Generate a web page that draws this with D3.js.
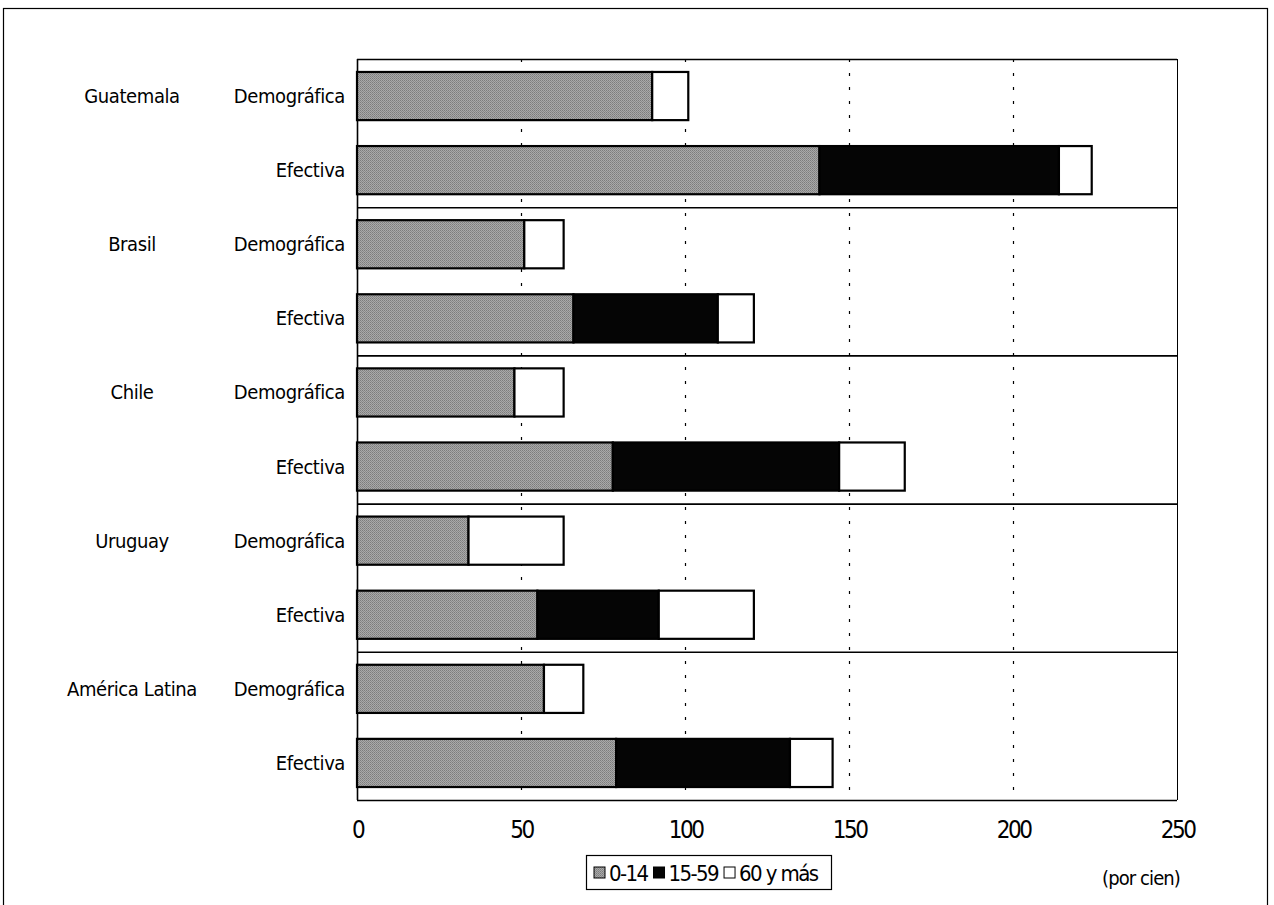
<!DOCTYPE html>
<html>
<head>
<meta charset="utf-8">
<script src="https://cdn.jsdelivr.net/npm/d3@7"></script>
<style>
  html, body { margin: 0; padding: 0; background: #fff; }
  svg { display: block; }
  text { font-family: "DejaVu Sans Condensed", "Liberation Sans Narrow", "DejaVu Sans", sans-serif; fill: #000; }
</style>
</head>
<body>
<script>
// Countries and the two kinds of dependency ratio shown for each
const countries = ["Guatemala", "Brasil", "Chile", "Uruguay", "América Latina"];
const ratioTypes = ["Demográfica", "Efectiva"];

// Age groups (stack order) and their legend labels
const ageGroups = ["0-14", "15-59", "60 y más"];

// Contribution of each age group, per cien, in row order (country x ratio type)
const values014  = [90, 141, 51, 66, 48, 78, 34, 55, 57, 79];
const values1559 = [0,  73,  0,  44, 0,  69, 0,  37, 0,  53];
const values60   = [11, 10,  12, 11, 15, 20, 29, 29, 12, 13];

const xTicks = [0, 50, 100, 150, 200, 250];
const unitLabel = "(por cien)";

const W = 1274, H = 905;
const margin = { left: 357, right: 97, top: 59, bottom: 105 };

const rows = [];
countries.forEach((c, i) => ratioTypes.forEach((t, j) => {
  const k = i * 2 + j;
  rows.push({ key: c + "|" + t, country: c, type: t,
              "0-14": values014[k], "15-59": values1559[k], "60 y más": values60[k] });
}));

const svg = d3.select("body").append("svg").attr("width", W).attr("height", H);

// Halftone-like grey fill for the youngest group
const defs = svg.append("defs");
const pat = defs.append("pattern").attr("id", "halftone")
  .attr("width", 2).attr("height", 2).attr("patternUnits", "userSpaceOnUse");
pat.append("rect").attr("width", 2).attr("height", 2).attr("fill", "#a9a9a9");
pat.append("rect").attr("width", 1).attr("height", 1).attr("fill", "#7c7c7c");
pat.append("rect").attr("x", 1).attr("y", 1).attr("width", 1).attr("height", 1).attr("fill", "#8a8a8a");

const fills = { "0-14": "url(#halftone)", "15-59": "#050505", "60 y más": "#ffffff" };

// Outer frame
svg.append("rect").attr("x", 3.5).attr("y", 8.5).attr("width", 1264).attr("height", 910)
  .attr("fill", "none").attr("stroke", "#000").attr("stroke-width", 1.2);

const x = d3.scaleLinear().domain([0, 250]).range([margin.left, W - margin.right]);
const y = d3.scaleBand().domain(rows.map(r => r.key))
  .range([margin.top, H - margin.bottom]).paddingInner(0.35).paddingOuter(0.175);
const step = y.step();

// Dotted vertical gridlines
svg.append("g").selectAll("line").data(xTicks.filter(t => t > 0 && t < 250)).join("line")
  .attr("x1", d => x(d) + 0.5).attr("x2", d => x(d) + 0.5)
  .attr("y1", margin.top).attr("y2", H - margin.bottom)
  .attr("stroke", "#000").attr("stroke-width", 1.2).attr("stroke-dasharray", "3,11");

// Right edge at 250
svg.append("line")
  .attr("x1", x(250) + 0.5).attr("x2", x(250) + 0.5)
  .attr("y1", margin.top).attr("y2", H - margin.bottom)
  .attr("stroke", "#000").attr("stroke-width", 1);

// Horizontal separators between countries (and top/bottom frame of the plot)
const sepYs = d3.range(countries.length + 1).map(i => margin.top + i * 2 * step);
svg.append("g").selectAll("line").data(sepYs).join("line")
  .attr("x1", x(0)).attr("x2", x(250))
  .attr("y1", d => d + 0.5).attr("y2", d => d + 0.5)
  .attr("stroke", "#000").attr("stroke-width", 1.6);

// Left axis line
svg.append("line").attr("x1", x(0) + 0.5).attr("x2", x(0) + 0.5)
  .attr("y1", margin.top).attr("y2", H - margin.bottom)
  .attr("stroke", "#000").attr("stroke-width", 1.6);

// Stacked bars
const stack = d3.stack().keys(ageGroups);
const series = stack(rows);
svg.append("g").selectAll("g").data(series).join("g")
  .attr("fill", d => fills[d.key])
  .selectAll("rect").data(d => d.filter(s => s[1] - s[0] > 0)).join("rect")
  .attr("x", d => x(d[0]))
  .attr("y", d => y(d.data.key))
  .attr("width", d => x(d[1]) - x(d[0]))
  .attr("height", y.bandwidth())
  .attr("stroke", "#000").attr("stroke-width", 2.2);

// Bottom axis tick labels
const xAxis = d3.axisBottom(x).tickValues(xTicks).tickSize(0).tickPadding(21);
const gx = svg.append("g").attr("transform", `translate(0,${H - margin.bottom})`).call(xAxis);
gx.select(".domain").remove();
gx.selectAll("text").style("font-size", "24px").attr("letter-spacing", "-2.5");

// Ratio-type labels (right aligned)
svg.append("g").selectAll("text").data(rows).join("text")
  .attr("x", margin.left - 12)
  .attr("y", d => y(d.key) + y.bandwidth() / 2)
  .attr("dy", "0.35em").attr("text-anchor", "end")
  .style("font-size", "20px").attr("letter-spacing", "-0.4")
  .text(d => d.type);

// Country labels (centred, on the first row of each country)
svg.append("g").selectAll("text").data(countries).join("text")
  .attr("x", 132)
  .attr("y", c => y(c + "|" + ratioTypes[0]) + y.bandwidth() / 2)
  .attr("dy", "0.35em").attr("text-anchor", "middle")
  .style("font-size", "20px").attr("letter-spacing", "-0.4")
  .text(c => c);

// Unit label
svg.append("text").attr("x", x(250) + 3).attr("y", 878)
  .attr("dy", "0.35em").attr("text-anchor", "end")
  .style("font-size", "20px").attr("letter-spacing", "-0.9")
  .text(unitLabel);

// Legend
const lg = svg.append("g").attr("transform", "translate(586,855)");
lg.append("rect").attr("x", 0.5).attr("y", 0.5).attr("width", 245).attr("height", 34)
  .attr("fill", "#fff").attr("stroke", "#000").attr("stroke-width", 1.2);
let lx = 8;
ageGroups.forEach(g => {
  lg.append("rect").attr("x", lx).attr("y", 12).attr("width", 11).attr("height", 11)
    .attr("fill", fills[g]).attr("stroke", "#000").attr("stroke-width", 1);
  const t = lg.append("text").attr("x", lx + 15).attr("y", 18).attr("dy", "0.35em")
    .style("font-size", "22px").attr("letter-spacing", "-1.6").text(g);
  lx += 15 + t.node().getComputedTextLength() + 6;
});
</script>
</body>
</html>
